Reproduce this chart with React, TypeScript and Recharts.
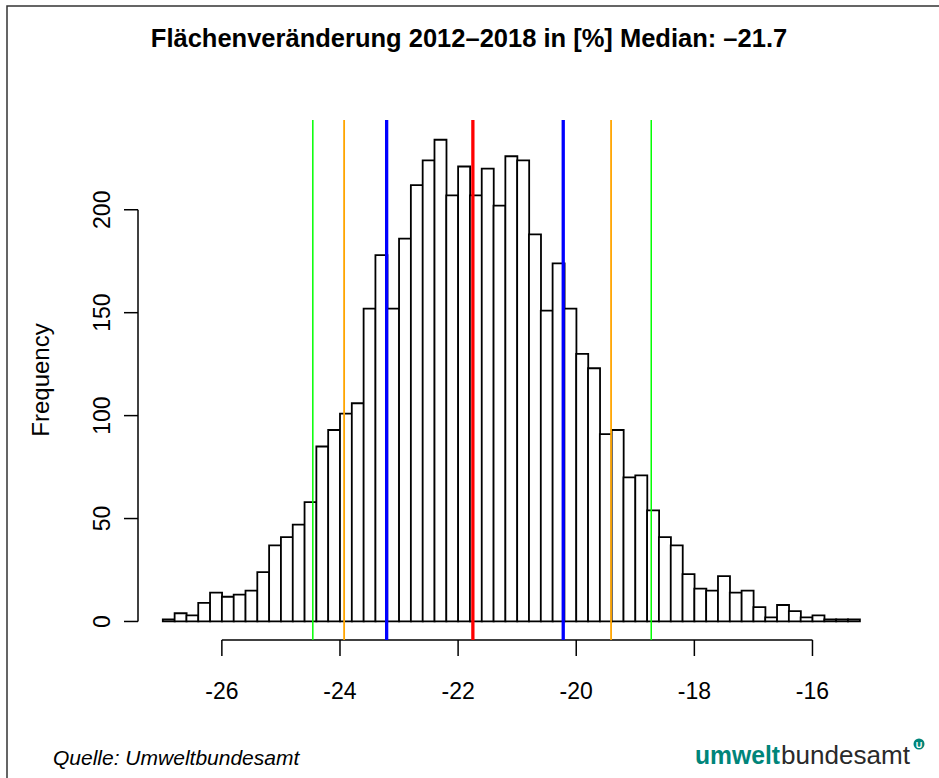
import { ComposedChart, Bar, XAxis, YAxis, ReferenceLine } from 'recharts'

const binCenters = [
  -26.9, -26.7, -26.5, -26.3, -26.1, -25.9, -25.7, -25.5, -25.3, -25.1,
  -24.9, -24.7, -24.5, -24.3, -24.1, -23.9, -23.7, -23.5, -23.3, -23.1,
  -22.9, -22.7, -22.5, -22.3, -22.1, -21.9, -21.7, -21.5, -21.3, -21.1,
  -20.9, -20.7, -20.5, -20.3, -20.1, -19.9, -19.7, -19.5, -19.3, -19.1,
  -18.9, -18.7, -18.5, -18.3, -18.1, -17.9, -17.7, -17.5, -17.3, -17.1,
  -16.9, -16.7, -16.5, -16.3, -16.1, -15.9, -15.7, -15.5, -15.3,
]
const counts = [
  1, 4, 3, 9, 14, 12, 13, 15, 24, 37,
  41, 47, 58, 85, 93, 101, 106, 152, 178, 152,
  186, 212, 224, 234, 207, 221, 207, 220, 202, 226,
  224, 188, 151, 174, 152, 130, 123, 91, 93, 70,
  71, 54, 41, 37, 23, 16, 15, 22, 14, 15,
  7, 2, 8, 5, 2, 3, 1, 1, 1,
]
const xTicks = [-26, -24, -22, -20, -18, -16]
const yTicks = [0, 50, 100, 150, 200]
const medianLine = -21.75
const blueLines = [-23.21, -20.22]
const orangeLines = [-23.93, -19.41]
const greenLines = [-24.46, -18.73]

const X_DOMAIN: [number, number] = [-27.42, -14.772]
const Y_DOMAIN: [number, number] = [-9, 243.6]
const FONT = '"Liberation Sans", Arial, Helvetica, sans-serif'

const data = binCenters.map((x, i) => ({ x, n: counts[i] }))

function XTick(props: any) {
  const { x, y, payload } = props
  return (
    <text x={x} y={y + 41} textAnchor="middle" fontFamily={FONT} fontSize={23} fill="#000">
      {payload.value}
    </text>
  )
}

function YTick(props: any) {
  const { x, y, payload } = props
  const bx = x - 12
  return (
    <text x={bx} y={y} textAnchor="middle" fontFamily={FONT} fontSize={23} fill="#000" transform={`rotate(-90, ${bx}, ${y})`}>
      {payload.value}
    </text>
  )
}

export default function App() {
  return (
    <div style={{ position: 'absolute', left: 0, top: 0, width: 939, height: 778, background: '#fff' }}>
      <ComposedChart width={939} height={778} data={data} margin={{ top: 120, right: 54, bottom: 0, left: 0 }} barCategoryGap={0} barGap={0}>
        <XAxis
          dataKey="x"
          type="number"
          domain={X_DOMAIN}
          allowDataOverflow
          ticks={xTicks}
          axisLine={false}
          tickSize={16}
          tickLine={{ stroke: '#000', strokeWidth: 1.5 }}
          tick={<XTick />}
          height={138}
          interval={0}
        />
        <YAxis
          type="number"
          domain={Y_DOMAIN}
          allowDataOverflow
          ticks={yTicks}
          axisLine={false}
          tickSize={14}
          tickLine={{ stroke: '#000', strokeWidth: 1.5 }}
          tick={<YTick />}
          width={138}
          interval={0}
        />
        <Bar dataKey="n" fill="#fff" stroke="#000" strokeWidth={1.8} isAnimationActive={false} />
        <ReferenceLine segment={[{ x: xTicks[0], y: Y_DOMAIN[0] }, { x: xTicks[xTicks.length - 1], y: Y_DOMAIN[0] }]} stroke="#000" strokeWidth={1.5} ifOverflow="visible" />
        <ReferenceLine segment={[{ x: X_DOMAIN[0], y: yTicks[0] }, { x: X_DOMAIN[0], y: yTicks[yTicks.length - 1] }]} stroke="#000" strokeWidth={1.5} ifOverflow="visible" />
        {greenLines.map((v) => (
          <ReferenceLine key={'g' + v} x={v} stroke="#00ff00" strokeWidth={1.5} />
        ))}
        {orangeLines.map((v) => (
          <ReferenceLine key={'o' + v} x={v} stroke="#ffa500" strokeWidth={1.8} />
        ))}
        {blueLines.map((v) => (
          <ReferenceLine key={'b' + v} x={v} stroke="#0000ff" strokeWidth={3.3} />
        ))}
        <ReferenceLine x={medianLine} stroke="#ff0000" strokeWidth={3.3} />
      </ComposedChart>
      <svg width={939} height={778} style={{ position: 'absolute', left: 0, top: 0, pointerEvents: 'none' }}>
        <rect x={7} y={6} width={1000} height={1000} fill="none" stroke="#333" strokeWidth={1.5} />
        <text x={469} y={47} textAnchor="middle" fontFamily={FONT} fontWeight="bold" fontSize={25.5} fill="#000">
          Flächenveränderung 2012–2018 in [%] Median: –21.7
        </text>
        <text x={49} y={380} textAnchor="middle" fontFamily={FONT} fontSize={24} fill="#000" transform="rotate(-90, 49, 380)">
          Frequency
        </text>
        <text x={53} y={765} fontFamily={FONT} fontStyle="italic" fontSize={21} fill="#000">
          Quelle: Umweltbundesamt
        </text>
        <text x={695} y={764} fontFamily={FONT} fontWeight="bold" fontSize={25} fill="#00857a" textLength={85} lengthAdjust="spacingAndGlyphs">
          umwelt
        </text>
        <text x={781} y={764} fontFamily={FONT} fontSize={25} fill="#2a2a2a" textLength={129} lengthAdjust="spacingAndGlyphs">
          bundesamt
        </text>
        <circle cx={919} cy={744} r={5.5} fill="#00857a" />
        <text x={919} y={747.5} textAnchor="middle" fontFamily={FONT} fontWeight="bold" fontSize={9} fill="#fff">
          U
        </text>
      </svg>
    </div>
  )
}
